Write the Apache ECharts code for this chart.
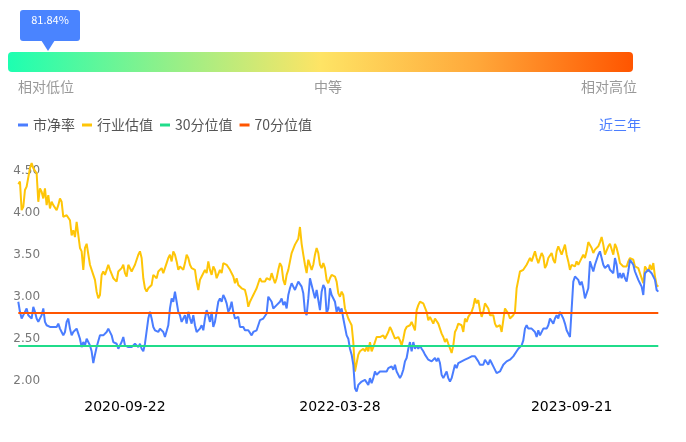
<!DOCTYPE html>
<html><head><meta charset="utf-8">
<script src="https://cdn.jsdelivr.net/npm/echarts@6/dist/echarts.min.js"></script>
<style>html,body{margin:0;padding:0;background:#fff}#c{width:686px;height:442px}</style>
</head><body><div id="c"></div>
<script>
const seriesNames = ['市净率', '行业估值', '30分位值', '70分位值'];
const pb = [
2.94,2.82,2.74,2.72,2.82,2.86,2.78,2.80,2.74,2.88,2.82,2.74,2.70,2.72,2.78,2.86,2.70,2.66,2.68,2.64,2.66,2.64,2.65,2.64,2.68,2.62,2.58,2.54,2.58,2.70,2.74,2.62,2.54,2.58,2.60,2.62,2.56,2.50,2.40,2.46,2.42,2.50,2.46,2.42,2.35,2.21,2.31,2.40,2.38,2.54,2.56,2.54,2.54,2.58,2.62,2.60,2.54,2.46,
2.44,2.44,2.38,2.40,2.46,2.52,2.42,2.40,2.40,2.42,2.40,2.42,2.44,2.46,2.40,2.44,2.38,2.35,2.44,2.42,2.74,2.82,2.74,2.64,2.60,2.62,2.58,2.62,2.60,2.58,2.52,2.54,2.66,2.86,2.98,2.94,3.06,2.94,2.82,2.78,2.70,2.74,2.78,2.68,2.82,2.74,2.68,2.78,2.66,2.58,2.56,2.62,2.66,2.60,2.74,2.84,2.78,2.70,2.82,2.64,2.70,2.82,2.94,
2.98,2.94,3.02,2.98,2.92,2.82,2.86,2.94,2.82,2.74,2.72,2.76,2.64,2.62,2.64,2.60,2.62,2.60,2.58,2.54,2.58,2.60,2.60,2.62,2.72,2.74,2.74,2.76,2.80,3.00,3.02,2.94,2.86,2.84,2.90,2.90,2.94,2.98,2.90,2.94,2.86,3.02,3.10,3.16,3.12,3.08,3.10,3.18,3.20,3.12,3.04,2.82,2.78,2.98,3.22,3.14,3.16,2.98,3.08,3.10,2.84,3.06,3.14,
3.10,2.80,2.86,3.10,3.02,3.02,2.94,2.82,2.88,2.82,2.86,2.74,2.64,2.54,2.50,2.38,2.31,2.19,1.91,1.87,1.95,1.95,1.99,1.99,2.01,1.99,1.95,2.03,1.97,2.03,2.11,2.07,2.09,2.11,2.09,2.11,2.13,2.11,2.15,2.13,2.17,2.13,2.19,2.11,2.09,2.03,2.07,2.13,2.23,2.27,2.38,2.46,2.35,2.46,2.38,2.42,2.38,2.42,2.38,2.35,2.31,2.29,2.25,
2.27,2.23,2.25,2.27,2.23,2.27,2.21,2.07,2.03,2.05,2.11,2.03,1.99,2.03,2.11,2.19,2.15,2.21,2.19,2.23,2.21,2.25,2.23,2.27,2.27,2.29,2.27,2.29,2.27,2.23,2.19,2.17,2.19,2.25,2.23,2.19,2.25,2.21,2.17,2.15,2.09,2.07,2.11,2.09,2.19,2.21,2.23,2.23,2.25,2.27,2.29,2.31,2.35,2.38,2.40,2.42,2.48,2.62,2.66,2.62,2.64,2.62,2.62,
2.58,2.52,2.60,2.54,2.56,2.62,2.60,2.62,2.66,2.74,2.72,2.68,2.74,2.78,2.74,2.82,2.80,2.74,2.68,2.60,2.56,2.52,2.50,3.18,3.24,3.22,3.20,3.14,3.18,3.10,2.98,2.96,3.10,3.42,3.40,3.30,3.38,3.40,3.50,3.54,3.56,3.38,3.34,3.32,3.38,3.32,3.34,3.28,3.46,3.38,3.22,3.28,3.22,3.28,3.22,3.18,3.30,3.44,3.42,3.38,3.30,3.32,3.20,3.16,3.12,3.02,3.28,3.30,3.32,3.30,3.28,3.30,3.20,3.08,3.06
];
const industry = [
4.34,4.37,4.03,4.07,4.27,4.31,4.29,4.53,4.59,4.53,4.55,4.47,4.13,4.29,4.25,4.17,4.29,4.09,4.21,4.05,4.13,4.09,4.11,4.03,4.09,4.17,4.13,3.95,3.97,3.97,3.99,3.91,3.73,3.79,3.71,3.89,3.91,3.58,3.54,3.32,3.58,3.63,3.65,3.38,3.36,3.26,3.20,3.06,2.98,3.02,3.26,3.30,3.26,3.32,3.38,3.32,3.34,3.22,
3.20,3.18,3.30,3.28,3.34,3.38,3.28,3.24,3.38,3.40,3.30,3.34,3.38,3.40,3.50,3.54,3.46,3.22,3.10,3.06,3.10,3.12,3.14,3.26,3.28,3.22,3.30,3.32,3.34,3.28,3.26,3.40,3.46,3.50,3.42,3.54,3.50,3.42,3.32,3.36,3.38,3.32,3.40,3.50,3.46,3.38,3.34,3.36,3.32,3.18,3.08,3.20,3.24,3.22,3.32,3.28,3.42,3.32,3.26,3.36,3.32,3.22,3.20,
3.32,3.28,3.40,3.40,3.38,3.36,3.32,3.34,3.24,3.16,3.22,3.14,3.12,3.10,3.12,3.08,3.00,2.88,2.94,2.98,3.02,3.06,3.10,3.16,3.22,3.18,3.20,3.18,3.22,3.24,3.20,3.28,3.26,3.16,3.22,3.32,3.40,3.36,3.20,3.14,3.26,3.32,3.42,3.52,3.50,3.62,3.63,3.69,3.83,3.63,3.50,3.38,3.28,3.44,3.42,3.32,3.38,3.50,3.58,3.52,3.38,3.34,3.40,
3.34,3.20,3.16,3.22,3.26,3.28,3.24,3.18,3.04,3.00,3.06,3.02,2.86,2.80,2.74,2.70,2.66,2.46,2.11,2.21,2.31,2.35,2.33,2.38,2.35,2.40,2.35,2.46,2.35,2.40,2.42,2.52,2.50,2.52,2.50,2.54,2.50,2.52,2.58,2.64,2.60,2.58,2.50,2.52,2.52,2.48,2.42,2.50,2.60,2.64,2.62,2.66,2.70,2.70,2.60,2.84,2.90,2.94,2.94,2.92,2.94,2.82,2.72,
2.76,2.74,2.68,2.74,2.76,2.68,2.70,2.56,2.52,2.46,2.50,2.44,2.42,2.33,2.42,2.58,2.62,2.68,2.70,2.66,2.58,2.74,2.70,2.76,2.78,2.82,2.88,2.98,2.92,2.96,2.84,2.76,2.82,2.92,2.94,2.86,2.78,2.80,2.78,2.68,2.64,2.62,2.66,2.58,2.72,2.86,2.84,2.80,2.74,2.72,2.78,2.82,3.10,3.20,3.30,3.28,3.32,3.34,3.38,3.42,3.46,3.42,3.48,
3.54,3.46,3.40,3.46,3.52,3.48,3.34,3.38,3.46,3.48,3.52,3.44,3.40,3.54,3.60,3.62,3.50,3.48,3.62,3.50,3.42,3.32,3.38,3.40,3.36,3.42,3.38,3.42,3.40,3.50,3.46,3.54,3.65,3.63,3.58,3.52,3.56,3.54,3.60,3.65,3.71,3.62,3.50,3.52,3.60,3.63,3.62,3.50,3.63,3.58,3.50,3.40,3.38,3.36,3.38,3.36,3.42,3.46,3.44,3.44,3.36,3.38,3.34,3.32,3.22,3.16,3.36,3.34,3.30,3.38,3.32,3.40,3.24,3.14,3.12
];
const pct30 = 2.42;
const pct70 = 2.81;
const xTickIndex = [64, 193, 332];
const xTickLabels = ['2020-09-22', '2022-03-28', '2023-09-21'];
const yTicks = [2.0, 2.5, 3.0, 3.5, 4.0, 4.5];
const percentileText = '81.84%';
const levelLabels = ['相对低位', '中等', '相对高位'];
const rangeLabel = '近三年';

const colors = ['#4a7dff', '#fec507', '#20dc8a', '#ff5500'];
const cjk = "'Noto Sans CJK SC', sans-serif";
const categories = pb.map((_, i) => i);

const chart = echarts.init(document.getElementById('c'));
chart.setOption({
  animation: false,
  grid: { left: 18.3, right: 27.7, top: 162.3, bottom: 48.7, containLabel: false },
  legend: {
    data: seriesNames, left: 13, top: 113, icon: 'rect', itemWidth: 10, itemHeight: 3, itemGap: 7,
    textStyle: { fontSize: 14, color: '#555', fontFamily: cjk }
  },
  xAxis: {
    type: 'category', data: categories, boundaryGap: false,
    axisLine: { show: false }, axisTick: { show: false }, splitLine: { show: false },
    axisLabel: {
      interval: (i) => xTickIndex.includes(i),
      formatter: (v, i) => { const k = xTickIndex.indexOf(Number(v)); return k >= 0 ? xTickLabels[k] : ''; },
      color: '#000', fontSize: 14, fontFamily: 'DejaVu Sans', margin: 7
    }
  },
  yAxis: {
    type: 'value', min: 1.85, max: 4.6, interval: 0.05,
    axisLine: { show: false }, axisTick: { show: false }, splitLine: { show: false },
    axisLabel: {
      align: 'left', margin: 5, color: '#777', fontSize: 12, fontFamily: 'DejaVu Sans',
      formatter: (v) => yTicks.some(t => Math.abs(t - v) < 1e-6) ? v.toFixed(2) : ''
    }
  },
  series: [
    { name: seriesNames[0], type: 'line', data: pb, symbol: 'none', showSymbol: false, z: 3,
      lineStyle: { width: 2, color: colors[0] }, itemStyle: { color: colors[0] } },
    { name: seriesNames[1], type: 'line', data: industry, symbol: 'none', showSymbol: false, z: 2,
      lineStyle: { width: 2, color: colors[1] }, itemStyle: { color: colors[1] } },
    { name: seriesNames[2], type: 'line', data: [], symbol: 'none', z: 5,
      lineStyle: { width: 2, color: colors[2] }, itemStyle: { color: colors[2] },
      markLine: { silent: true, symbol: ['none', 'none'], label: { show: false }, animation: false,
        lineStyle: { color: colors[2], width: 2, type: 'solid' }, data: [{ yAxis: pct30 }] } },
    { name: seriesNames[3], type: 'line', data: [], symbol: 'none', z: 5,
      lineStyle: { width: 2, color: colors[3] }, itemStyle: { color: colors[3] },
      markLine: { silent: true, symbol: ['none', 'none'], label: { show: false }, animation: false,
        lineStyle: { color: colors[3], width: 2, type: 'solid' }, data: [{ yAxis: pct70 }] } }
  ],
  graphic: [
    { type: 'rect', shape: { x: 8, y: 52, width: 625, height: 20, r: 4 },
      style: { fill: new echarts.graphic.LinearGradient(0, 0, 1, 0, [
        { offset: 0, color: '#1dffb1' }, { offset: 0.25, color: '#8ff08a' },
        { offset: 0.5, color: '#fee465' }, { offset: 0.75, color: '#ffa83a' }, { offset: 1, color: '#ff5500' }]) } },
    { type: 'text', x: 18, y: 87, style: { text: levelLabels[0], fill: '#999', font: '14px ' + cjk, align: 'left', verticalAlign: 'middle', textAlign: 'left', textVerticalAlign: 'middle' } },
    { type: 'text', x: 328, y: 87, style: { text: levelLabels[1], fill: '#999', font: '14px ' + cjk, align: 'center', verticalAlign: 'middle', textAlign: 'center', textVerticalAlign: 'middle' } },
    { type: 'text', x: 637, y: 87, style: { text: levelLabels[2], fill: '#999', font: '14px ' + cjk, align: 'right', verticalAlign: 'middle', textAlign: 'right', textVerticalAlign: 'middle' } },
    { type: 'rect', shape: { x: 20, y: 10, width: 60, height: 31, r: 3 }, style: { fill: '#4a84ff' } },
    { type: 'polygon', shape: { points: [[41, 40], [55, 40], [48, 51]] }, style: { fill: '#4a84ff' } },
    { type: 'text', x: 50, y: 20, style: { text: percentileText, fill: '#fff', font: '11px ' + cjk, align: 'center', verticalAlign: 'middle', textAlign: 'center', textVerticalAlign: 'middle' } },
    { type: 'text', x: 620, y: 125, style: { text: rangeLabel, fill: '#4a7dff', font: '14px ' + cjk, align: 'center', verticalAlign: 'middle', textAlign: 'center', textVerticalAlign: 'middle' } }
  ]
});
</script>
</body></html>
